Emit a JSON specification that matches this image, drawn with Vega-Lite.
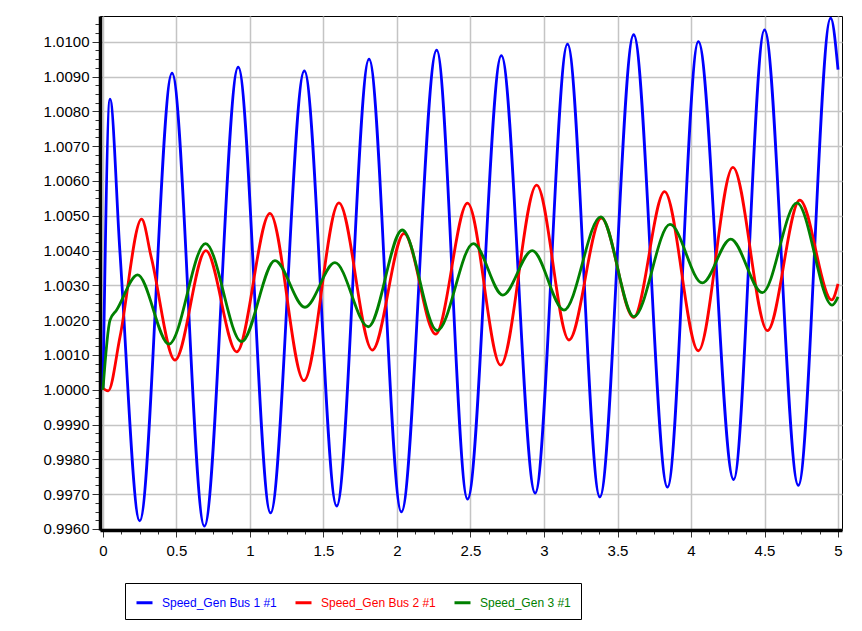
{
  "$schema": "https://vega.github.io/schema/vega-lite/v6.json",
  "autosize": "none",
  "width": 742,
  "height": 514,
  "padding": {"left": 100, "top": 16, "right": 20, "bottom": 101},
  "background": "white",
  "config": {
    "view": {"stroke": "black", "strokeWidth": 1},
    "font": "Liberation Sans"
  },
  "data": {
    "values": [
      {"s": "Speed_Gen Bus 1 #1", "t": 0, "v": 1.0000},
      {"s": "Speed_Gen Bus 1 #1", "t": 0.048, "v": 1.00835},
      {"s": "Speed_Gen Bus 1 #1", "t": 0.115, "v": 1.0040},
      {"s": "Speed_Gen Bus 1 #1", "t": 0.25, "v": 0.99623},
      {"s": "Speed_Gen Bus 1 #1", "t": 0.47, "v": 1.0091},
      {"s": "Speed_Gen Bus 1 #1", "t": 0.69, "v": 0.99608},
      {"s": "Speed_Gen Bus 1 #1", "t": 0.92, "v": 1.00927},
      {"s": "Speed_Gen Bus 1 #1", "t": 1.14, "v": 0.99646},
      {"s": "Speed_Gen Bus 1 #1", "t": 1.37, "v": 1.00916},
      {"s": "Speed_Gen Bus 1 #1", "t": 1.59, "v": 0.99666},
      {"s": "Speed_Gen Bus 1 #1", "t": 1.81, "v": 1.0095},
      {"s": "Speed_Gen Bus 1 #1", "t": 2.03, "v": 0.99649},
      {"s": "Speed_Gen Bus 1 #1", "t": 2.27, "v": 1.00976},
      {"s": "Speed_Gen Bus 1 #1", "t": 2.48, "v": 0.99686},
      {"s": "Speed_Gen Bus 1 #1", "t": 2.71, "v": 1.0096},
      {"s": "Speed_Gen Bus 1 #1", "t": 2.94, "v": 0.99703},
      {"s": "Speed_Gen Bus 1 #1", "t": 3.16, "v": 1.00993},
      {"s": "Speed_Gen Bus 1 #1", "t": 3.38, "v": 0.99692},
      {"s": "Speed_Gen Bus 1 #1", "t": 3.61, "v": 1.0102},
      {"s": "Speed_Gen Bus 1 #1", "t": 3.84, "v": 0.9972},
      {"s": "Speed_Gen Bus 1 #1", "t": 4.05, "v": 1.0100},
      {"s": "Speed_Gen Bus 1 #1", "t": 4.29, "v": 0.99742},
      {"s": "Speed_Gen Bus 1 #1", "t": 4.50, "v": 1.01034},
      {"s": "Speed_Gen Bus 1 #1", "t": 4.73, "v": 0.99725},
      {"s": "Speed_Gen Bus 1 #1", "t": 4.95, "v": 1.01068},
      {"s": "Speed_Gen Bus 1 #1", "t": 5.0, "v": 1.0092},

      {"s": "Speed_Gen Bus 2 #1", "t": 0, "v": 1.00004},
      {"s": "Speed_Gen Bus 2 #1", "t": 0.036, "v": 0.99997},
      {"s": "Speed_Gen Bus 2 #1", "t": 0.116, "v": 1.00152},
      {"s": "Speed_Gen Bus 2 #1", "t": 0.263, "v": 1.0049},
      {"s": "Speed_Gen Bus 2 #1", "t": 0.33, "v": 1.00378},
      {"s": "Speed_Gen Bus 2 #1", "t": 0.49, "v": 1.00085},
      {"s": "Speed_Gen Bus 2 #1", "t": 0.70, "v": 1.0040},
      {"s": "Speed_Gen Bus 2 #1", "t": 0.91, "v": 1.00109},
      {"s": "Speed_Gen Bus 2 #1", "t": 1.136, "v": 1.00507},
      {"s": "Speed_Gen Bus 2 #1", "t": 1.367, "v": 1.00026},
      {"s": "Speed_Gen Bus 2 #1", "t": 1.605, "v": 1.00537},
      {"s": "Speed_Gen Bus 2 #1", "t": 1.832, "v": 1.00114},
      {"s": "Speed_Gen Bus 2 #1", "t": 2.048, "v": 1.00449},
      {"s": "Speed_Gen Bus 2 #1", "t": 2.263, "v": 1.0016},
      {"s": "Speed_Gen Bus 2 #1", "t": 2.48, "v": 1.00536},
      {"s": "Speed_Gen Bus 2 #1", "t": 2.705, "v": 1.00071},
      {"s": "Speed_Gen Bus 2 #1", "t": 2.95, "v": 1.00588},
      {"s": "Speed_Gen Bus 2 #1", "t": 3.17, "v": 1.00143},
      {"s": "Speed_Gen Bus 2 #1", "t": 3.39, "v": 1.00493},
      {"s": "Speed_Gen Bus 2 #1", "t": 3.61, "v": 1.00208},
      {"s": "Speed_Gen Bus 2 #1", "t": 3.82, "v": 1.00569},
      {"s": "Speed_Gen Bus 2 #1", "t": 4.05, "v": 1.00112},
      {"s": "Speed_Gen Bus 2 #1", "t": 4.285, "v": 1.00639},
      {"s": "Speed_Gen Bus 2 #1", "t": 4.52, "v": 1.0017},
      {"s": "Speed_Gen Bus 2 #1", "t": 4.74, "v": 1.00545},
      {"s": "Speed_Gen Bus 2 #1", "t": 4.957, "v": 1.00258},
      {"s": "Speed_Gen Bus 2 #1", "t": 5.0, "v": 1.00304},

      {"s": "Speed_Gen 3 #1", "t": 0, "v": 1.0000},
      {"s": "Speed_Gen 3 #1", "t": 0.048, "v": 1.0020},
      {"s": "Speed_Gen 3 #1", "t": 0.093, "v": 1.00229},
      {"s": "Speed_Gen 3 #1", "t": 0.236, "v": 1.0033},
      {"s": "Speed_Gen 3 #1", "t": 0.449, "v": 1.00131},
      {"s": "Speed_Gen 3 #1", "t": 0.698, "v": 1.0042},
      {"s": "Speed_Gen 3 #1", "t": 0.943, "v": 1.00138},
      {"s": "Speed_Gen 3 #1", "t": 1.17, "v": 1.00371},
      {"s": "Speed_Gen 3 #1", "t": 1.374, "v": 1.00237},
      {"s": "Speed_Gen 3 #1", "t": 1.578, "v": 1.00365},
      {"s": "Speed_Gen 3 #1", "t": 1.805, "v": 1.00181},
      {"s": "Speed_Gen 3 #1", "t": 2.036, "v": 1.00459},
      {"s": "Speed_Gen 3 #1", "t": 2.274, "v": 1.0017},
      {"s": "Speed_Gen 3 #1", "t": 2.52, "v": 1.0042},
      {"s": "Speed_Gen 3 #1", "t": 2.72, "v": 1.00272},
      {"s": "Speed_Gen 3 #1", "t": 2.92, "v": 1.0040},
      {"s": "Speed_Gen 3 #1", "t": 3.136, "v": 1.00229},
      {"s": "Speed_Gen 3 #1", "t": 3.386, "v": 1.00497},
      {"s": "Speed_Gen 3 #1", "t": 3.612, "v": 1.0021},
      {"s": "Speed_Gen 3 #1", "t": 3.857, "v": 1.00475},
      {"s": "Speed_Gen 3 #1", "t": 4.077, "v": 1.00307},
      {"s": "Speed_Gen 3 #1", "t": 4.27, "v": 1.00433},
      {"s": "Speed_Gen 3 #1", "t": 4.485, "v": 1.00279},
      {"s": "Speed_Gen 3 #1", "t": 4.72, "v": 1.00537},
      {"s": "Speed_Gen 3 #1", "t": 4.96, "v": 1.00243},
      {"s": "Speed_Gen 3 #1", "t": 5.0, "v": 1.00267}
    ]
  },
  "mark": {"type": "line", "interpolate": "monotone", "strokeWidth": 2.8, "clip": true},
  "encoding": {
    "x": {
      "field": "t", "type": "quantitative",
      "scale": {"domain": [-0.02, 5.027], "nice": false, "zero": false},
      "axis": {
        "title": null,
        "values": [0,0.125,0.25,0.375,0.5,0.625,0.75,0.875,1,1.125,1.25,1.375,1.5,1.625,1.75,1.875,2,2.125,2.25,2.375,2.5,2.625,2.75,2.875,3,3.125,3.25,3.375,3.5,3.625,3.75,3.875,4,4.125,4.25,4.375,4.5,4.625,4.75,4.875,5],
        "format": "~g",
        "labelExpr": "abs(datum.value*2 - round(datum.value*2)) < 0.01 ? datum.label : ''",
        "labelFont": "Liberation Sans",
        "labelFontSize": 15,
        "labelColor": "black",
        "labelPadding": 6,
        "labelFlush": false,
        "labelOverlap": false,
        "labelBound": false,
        "domainColor": "black",
        "domainWidth": 3.5,
        "tickColor": "#333333",
        "tickWidth": 1,
        "tickSize": {"condition": {"test": "abs(datum.value*2 - round(datum.value*2)) < 0.01", "value": 7}, "value": 4},
        "grid": true,
        "gridColor": "#c4c4c4",
        "gridWidth": 1.5,
        "gridOpacity": {"condition": {"test": "abs(datum.value*2 - round(datum.value*2)) < 0.01", "value": 1}, "value": 0}
      }
    },
    "y": {
      "field": "v", "type": "quantitative",
      "scale": {"domain": [0.99597, 1.010739], "nice": false, "zero": false},
      "axis": {
        "title": null,
        "values": [0.996,0.99625,0.9965,0.99675,0.997,0.99725,0.9975,0.99775,0.998,0.99825,0.9985,0.99875,0.999,0.99925,0.9995,0.99975,1.0,1.00025,1.0005,1.00075,1.001,1.00125,1.0015,1.00175,1.002,1.00225,1.0025,1.00275,1.003,1.00325,1.0035,1.00375,1.004,1.00425,1.0045,1.00475,1.005,1.00525,1.0055,1.00575,1.006,1.00625,1.0065,1.00675,1.007,1.00725,1.0075,1.00775,1.008,1.00825,1.0085,1.00875,1.009,1.00925,1.0095,1.00975,1.01,1.01025,1.0105],
        "format": ".4f",
        "labelExpr": "abs(datum.value*1000 - round(datum.value*1000)) < 0.01 ? datum.label : ''",
        "labelFont": "Liberation Sans",
        "labelFontSize": 15,
        "labelColor": "black",
        "labelPadding": 3,
        "labelOverlap": false,
        "labelBound": false,
        "labelFlush": false,
        "domainColor": "black",
        "domainWidth": 3.5,
        "tickColor": "#333333",
        "tickWidth": 1,
        "tickSize": {"condition": {"test": "abs(datum.value*1000 - round(datum.value*1000)) < 0.01", "value": 8}, "value": 5},
        "grid": true,
        "gridColor": "#c4c4c4",
        "gridWidth": 1.5,
        "gridOpacity": {"condition": {"test": "abs(datum.value*1000 - round(datum.value*1000)) < 0.01", "value": 1}, "value": 0}
      }
    },
    "color": {
      "field": "s", "type": "nominal",
      "scale": {
        "domain": ["Speed_Gen Bus 1 #1", "Speed_Gen Bus 2 #1", "Speed_Gen 3 #1"],
        "range": ["#0000ff", "#ff0000", "#008000"]
      },
      "legend": {
        "title": null,
        "orient": "none",
        "legendX": 25,
        "legendY": 567,
        "direction": "horizontal",
        "columns": 3,
        "columnPadding": 12,
        "padding": 10,
        "strokeColor": "black",
        "fillColor": "white",
        "symbolType": "stroke",
        "symbolSize": 256,
        "symbolStrokeWidth": 3,
        "labelOffset": 8,
        "labelFont": "Liberation Sans",
        "labelFontSize": 12,
        "labelLimit": 300,
        "encode": {
          "labels": {"update": {"fill": {"scale": "color", "field": "value"}}}
        }
      }
    },
    "order": {"field": "t", "type": "quantitative"}
  }
}
